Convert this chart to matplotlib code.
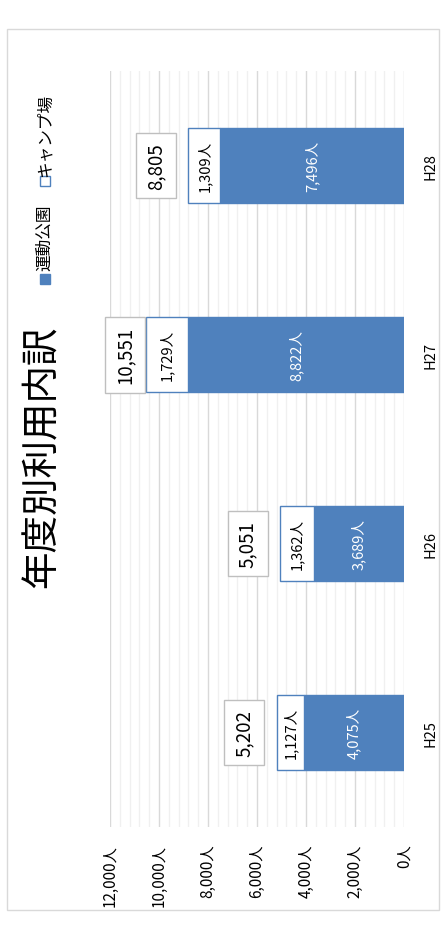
import matplotlib.pyplot as plt
from matplotlib.patches import Rectangle
from matplotlib.ticker import FuncFormatter, MultipleLocator

plt.rcParams['font.family'] = ['Noto Sans CJK JP', 'DejaVu Sans']

# データ
years = ['H25', 'H26', 'H27', 'H28']
park = [4075, 3689, 8822, 7496]      # 運動公園
camp = [1127, 1362, 1729, 1309]      # キャンプ場
totals = [5202, 5051, 10551, 8805]

blue = '#4F81BD'
W, H = 445, 937

fig = plt.figure(figsize=(W / 100, H / 100), dpi=100)

# 外枠
fig.add_artist(Rectangle((7 / W, 1 - 911 / H), 432 / W, 881 / H, transform=fig.transFigure,
                         fill=False, edgecolor='#D9D9D9', linewidth=1))

ax = fig.add_axes([110 / W, 1 - 828 / H, 294 / W, 756 / H])

ypos = list(range(len(years)))
ax.barh(ypos, park, height=0.4, color=blue, edgecolor=blue, linewidth=1, zorder=3)
ax.barh(ypos, camp, left=park, height=0.4, color='white', edgecolor=blue, linewidth=1, zorder=3)

for i in ypos:
    ax.text(park[i] / 2, i, f'{park[i]:,}人', rotation=90, ha='center', va='center',
            color='white', fontsize=10.5, zorder=4)
    ax.text(park[i] + camp[i] / 2, i, f'{camp[i]:,}人', rotation=90, ha='center', va='center',
            color='black', fontsize=10.5, zorder=4)
    # 合計ラベル (プロット内に収める)
    x = min(totals[i] + 900, 10950)
    ax.text(x, i, f'{totals[i]:,}', rotation=90, ha='right', va='center', fontsize=13.5, zorder=4,
            bbox=dict(boxstyle='square,pad=0.5', facecolor='white', edgecolor='#BFBFBF', linewidth=1))

ax.set_xlim(12000, 0)
ax.set_ylim(-0.5, 3.5)
ax.xaxis.set_major_locator(MultipleLocator(2000))
ax.xaxis.set_minor_locator(MultipleLocator(400))
ax.xaxis.set_major_formatter(FuncFormatter(lambda v, p: f'{int(v):,}人'))
ax.grid(axis='x', which='major', color='#D9D9D9', linewidth=1, zorder=0)
ax.grid(axis='x', which='minor', color='#F0F0F0', linewidth=1, zorder=0)
ax.tick_params(axis='x', which='both', length=0, pad=12, labelrotation=90, labelsize=11)

ax.set_yticks(ypos)
ax.set_yticklabels(years)
ax.yaxis.tick_right()
ax.tick_params(axis='y', length=0, pad=14, labelrotation=90, labelsize=10.5)
for lab in ax.get_yticklabels():
    lab.set_va('center')

for s in ax.spines.values():
    s.set_visible(False)

# タイトル
fig.text(42 / W, 1 - 457 / H, '年度別利用内訳', rotation=90, ha='center', va='center', fontsize=27)

# 凡例
fig.add_artist(Rectangle((40 / W, 1 - 285 / H), 10 / W, 10 / H, transform=fig.transFigure,
                         facecolor=blue, edgecolor=blue))
fig.text(45 / W, 1 - 238 / H, '運動公園', rotation=90, ha='center', va='center', fontsize=12)
fig.add_artist(Rectangle((40 / W, 1 - 187 / H), 10 / W, 10 / H, transform=fig.transFigure,
                         facecolor='white', edgecolor=blue, linewidth=1))
fig.text(45 / W, 1 - 135 / H, 'キャンプ場', rotation=90, ha='center', va='center', fontsize=12)

fig.savefig('out.png', dpi=100)
